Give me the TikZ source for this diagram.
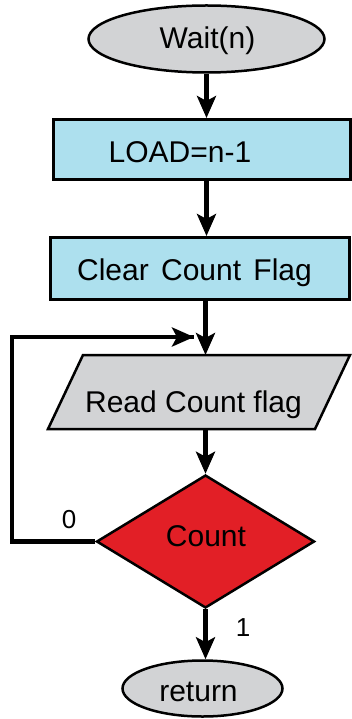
\documentclass[tikz,border=0pt]{standalone}
\usepackage{fontspec}
\setmainfont{Liberation Sans}
\usetikzlibrary{shapes.geometric,arrows.meta}
\definecolor{boxblue}{HTML}{ADE0EE}
\definecolor{shapegray}{HTML}{D2D3D5}
\definecolor{decred}{HTML}{E21F26}
\tikzset{
  txt/.style={anchor=base,inner sep=0pt,font=\fontsize{30}{33}\selectfont},
  term/.style={ellipse,draw=black,line width=2.5pt,fill=shapegray,inner sep=0pt},
  procbox/.style={rectangle,draw=black,line width=3pt,fill=boxblue,inner sep=0pt},
  decision/.style={diamond,draw=black,line width=2.5pt,fill=decred,inner sep=0pt},
  flow/.style={line width=4.5pt,-{Stealth[length=22pt,width=19pt,inset=5pt]}},
  plainline/.style={line width=4.5pt}
}
\begin{document}
\begin{tikzpicture}[x=1pt,y=-1pt]
\useasboundingbox (0,0) rectangle (352,719);
% shapes
\node[term,minimum width=236pt,minimum height=67pt] (wait) at (206.5,39) {};
\node[procbox,minimum width=297pt,minimum height=60pt] (load) at (201.5,149.5) {};
\node[procbox,minimum width=299pt,minimum height=62pt] (clear) at (200,268.5) {};
\draw[line width=2.5pt,fill=shapegray] (83,355) coordinate (rtl) -- (350,355) -- (315,429) -- (48,429) coordinate (rbl) -- cycle;
\coordinate (rtop) at (205.5,355);
\coordinate (rbot) at (205.5,429);
\node[decision,minimum width=218pt,minimum height=133pt] (count) at (205.5,541.5) {};
\node[term,minimum width=160pt,minimum height=56pt] (ret) at (202.5,688.5) {};
% texts
\node[txt] (twait) at (207.5,49) {Wait(n)};
\node[txt] (tload) at (180,163) {LOAD=n-1};
\node[txt] (tclear) at (194.5,280) {Clear\hspace{4pt} Count\hspace{4pt} Flag};
\node[txt] (tread) at (193.5,412) {Read Count flag};
\node[txt] (tcount) at (206,546) {Count};
\node[txt] (treturn) at (198.5,701) {return};
\node[txt,font=\fontsize{26}{29}\selectfont] (tzero) at (69,528) {0};
\node[txt,font=\fontsize{26}{29}\selectfont] (tone) at (243,636) {1};
% connectors
\draw[flow] (wait.south) -- (wait.south |- load.north);
\draw[flow] (load.south -| wait.south) -- (clear.north -| wait.south);
\draw[flow] (clear.south -| rtop) -- (rtop);
\draw[flow] (rbot) -- (count.north);
\draw[flow] (count.south) -- (count.south |- ret.north);
\coordinate (lc1) at (12,541.5);
\coordinate (lc2) at (12,337);
\coordinate (loopend) at (194,337);
\draw[plainline,line join=miter] (count.west) -- (lc1) -- (lc2) -- (loopend |- lc2);
\draw[flow] (lc2) -- (loopend);
\end{tikzpicture}
\end{document}
